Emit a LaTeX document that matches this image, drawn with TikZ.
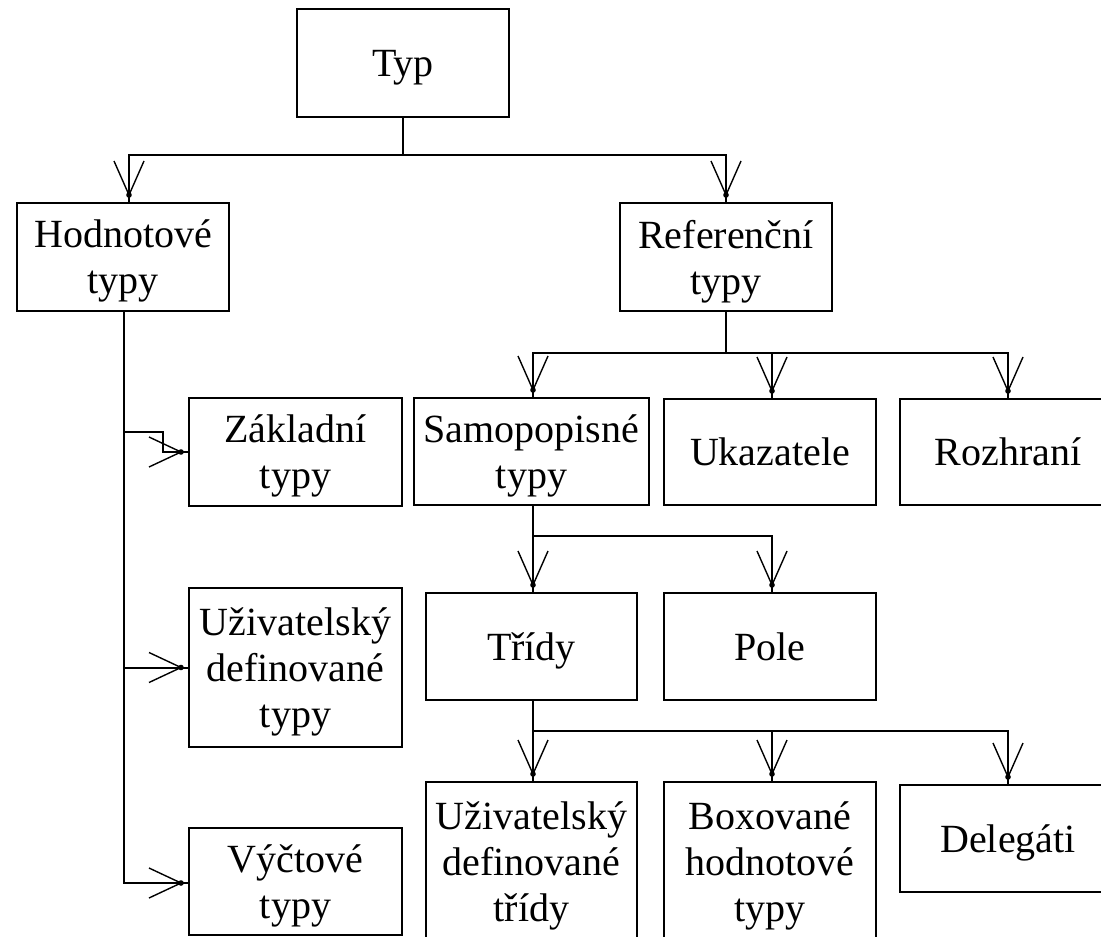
\documentclass[tikz,border=0pt]{standalone}
\usepackage{fontspec}
\setmainfont{Liberation Serif}
\begin{document}
\begin{tikzpicture}[x=0.5pt,y=-0.5pt,
  box/.style={draw,line width=1pt,rectangle,align=center,inner sep=0pt,
    text depth=0pt,font=\fontsize{20pt}{23pt}\selectfont},
  conn/.style={line width=1pt},
  barb/.style={line width=0.7pt}]
\newcommand\vdown[1]{%
  \draw[barb] (#1) ++(0,-7) coordinate (tp) ++(-15,-34) -- (tp) -- ++(15,-34);
  \fill (tp) circle[radius=1.4pt];}
\newcommand\vright[1]{%
  \draw[barb] (#1) ++(-7,0) coordinate (tp) ++(-32,-15) -- (tp) -- ++(-32,15);
  \fill (tp) circle[radius=1.4pt];}
\useasboundingbox (0,0) rectangle (1101,936);
\clip (0,0) rectangle (1101,936);
\fill[white] (0,0) rectangle (1101,936);

% boxes
\node[box,minimum width=106pt,minimum height=54pt] (typ) at (403,63) {Typ};
\node[box,minimum width=106pt,minimum height=54pt] (hod) at (123,257) {Hodnotové\\typy};
\node[box,minimum width=106pt,minimum height=54pt] (ref) at (726,257) {Referenční\\typy};
\node[box,minimum width=106.5pt,minimum height=54pt] (zakl) at (295.5,452) {Základní\\typy};
\node[box,minimum width=117.5pt,minimum height=53.5pt] (samo) at (531.5,451.5) {Samopopisné\\typy};
\node[box,minimum width=106pt,minimum height=53pt] (uk) at (770,452) {Ukazatele};
\node[box,minimum width=108pt,minimum height=53pt] (roz) at (1008,452) {Rozhraní};
\node[box,minimum width=105.5pt,minimum height=53.5pt] (tridy) at (531.5,646.5) {Třídy};
\node[box,minimum width=106pt,minimum height=53.5pt] (pole) at (770,646.5) {Pole};
\node[box,minimum width=106.5pt,minimum height=79.5pt] (udty) at (295.5,667.5) {Uživatelský\\definované\\typy};
\node[box,minimum width=106.5pt,minimum height=53.5pt] (vyc) at (295.5,881.5) {Výčtové\\typy};
\node[box,minimum width=105.5pt,minimum height=79.5pt] (udtr) at (531.5,861.5) {Uživatelský\\definované\\třídy};
\node[box,minimum width=106pt,minimum height=79.5pt] (boxov) at (770,861.5) {Boxované\\hodnotové\\typy};
\node[box,minimum width=108pt,minimum height=53.5pt] (deleg) at (1008,838.5) {Delegáti};

% connectors
\coordinate (hodin) at ([xshift=3pt]hod.north);
\draw[conn] (typ.south) -- ++(0,37) coordinate (j1);
\draw[conn] (j1) -| (hodin);
\draw[conn] (j1) -| (ref.north);
\vdown{hodin}
\vdown{ref.north}

\coordinate (samoin) at ([xshift=0.75pt]samo.north);
\coordinate (ukin) at ([xshift=1pt]uk.north);
\draw[conn] (ref.south) -- ++(0,41) coordinate (j2);
\draw[conn] (j2) -| (samoin);
\draw[conn] (j2) -| (ukin);
\draw[conn] (j2) -| (roz.north);
\vdown{samoin}
\vdown{ukin}
\vdown{roz.north}

\coordinate (samoout) at ([xshift=0.75pt]samo.south);
\coordinate (tridyin) at ([xshift=0.75pt]tridy.north);
\coordinate (polein) at ([xshift=1pt]pole.north);
\draw[conn] (samoout) -- ++(0,30) coordinate (j3);
\draw[conn] (j3) -| (tridyin);
\draw[conn] (j3) -| (polein);
\vdown{tridyin}
\vdown{polein}

\coordinate (tridyout) at ([xshift=0.75pt]tridy.south);
\coordinate (udtrin) at ([xshift=0.75pt]udtr.north);
\coordinate (boxin) at ([xshift=1pt]boxov.north);
\draw[conn] (tridyout) -- ++(0,30) coordinate (j4);
\draw[conn] (j4) -| (udtrin);
\draw[conn] (j4) -| (boxin);
\draw[conn] (j4) -| (deleg.north);
\vdown{udtrin}
\vdown{boxin}
\vdown{deleg.north}

\coordinate (hodout) at ([xshift=0.5pt]hod.south);
\coordinate (vycin) at ([yshift=-0.75pt]vyc.west);
\draw[conn] (hodout) |- (vycin);
\draw[conn] (hodout |- udty.west) -- (udty.west);
\draw[conn] ([yshift=10pt]hodout |- zakl.west) -- ++(39,0) |- (zakl.west);
\vright{zakl.west}
\vright{udty.west}
\vright{vycin}
\end{tikzpicture}
\end{document}
